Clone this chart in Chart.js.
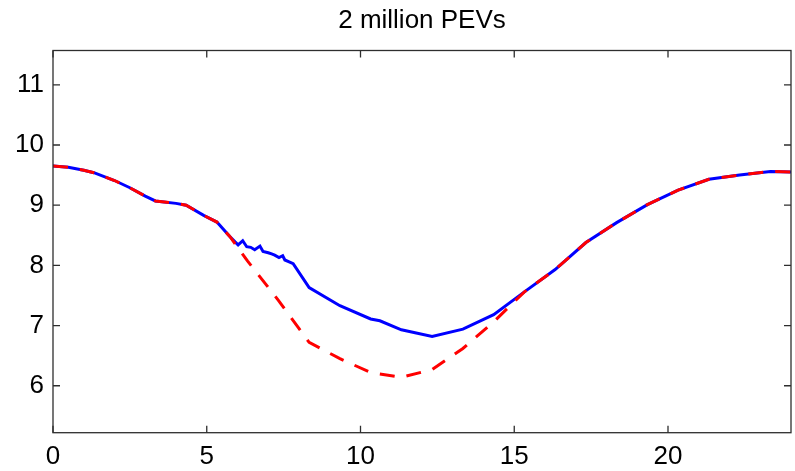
<!DOCTYPE html>
<html>
<head>
<meta charset="utf-8">
<title>2 million PEVs</title>
<script src="https://cdn.jsdelivr.net/npm/chart.js@4.4.1/dist/chart.umd.min.js"></script>
<style>
  html, body { margin: 0; padding: 0; background: #ffffff; }
  #wrap { width: 795px; height: 471px; position: relative; }
</style>
</head>
<body>
<div id="wrap"><canvas id="loadchart"></canvas></div>
<script>
// hour of day
var xTicks = [0, 5, 10, 15, 20];
var yTicks = [6, 7, 8, 9, 10, 11];

// red dashed curve
var baseHours = [0, 0.5, 1.0, 1.33, 2.0, 2.5, 3.0, 3.33, 4.0, 4.33, 4.9, 5.33, 5.75,
    6.0, 6.33, 7.33, 8.33, 9.33, 10.33, 11.33, 12.33, 13.33, 14.33, 15.33,
    16.33, 17.33, 18.33, 19.33, 20.33, 21.33, 22.33, 23.33, 24];
var baseLoad = [9.65, 9.63, 9.58, 9.54, 9.41, 9.29, 9.15, 9.07, 9.03, 9.00, 8.83, 8.72, 8.48,
    8.30, 8.07, 7.42, 6.72, 6.45, 6.22, 6.14, 6.27, 6.62, 7.06, 7.56,
    7.93, 8.38, 8.71, 9.01, 9.25, 9.43, 9.50, 9.56, 9.55];

// blue solid curve
var pevHours = [0, 0.5, 1.0, 1.33, 2.0, 2.5, 3.0, 3.33, 4.0, 4.33, 4.9, 5.33, 5.75,
    5.92, 6.02, 6.17, 6.30, 6.43, 6.56, 6.73, 6.83, 7.0, 7.11, 7.21, 7.35, 7.47, 7.54, 7.68, 7.81,
    8.33, 9.33, 10.33, 10.63, 11.33, 12.33, 13.33, 14.33, 15.33,
    16.33, 17.33, 18.33, 19.33, 20.33, 21.33, 22.33, 23.33, 24];
var pevLoad = [9.65, 9.63, 9.58, 9.54, 9.41, 9.29, 9.15, 9.07, 9.03, 9.00, 8.83, 8.72, 8.48,
    8.39, 8.34, 8.41, 8.31, 8.30, 8.26, 8.32, 8.23, 8.21, 8.19, 8.17, 8.13, 8.16, 8.09, 8.06, 8.03,
    7.63, 7.33, 7.11, 7.08, 6.93, 6.82, 6.94, 7.18, 7.56,
    7.93, 8.38, 8.71, 9.01, 9.25, 9.43, 9.50, 9.56, 9.55];

function toPoints(xs, ys) {
    var pts = [];
    for (var i = 0; i < xs.length; i++) {
        pts.push({ x: xs[i], y: ys[i] });
    }
    return pts;
}

// matlab style box with inward ticks on all four sides
var boxPlugin = {
    id: 'boxTicks',
    afterDraw: function(chart) {
        var ctx = chart.ctx;
        var a = chart.chartArea;
        var xs = chart.scales.x;
        var ys = chart.scales.y;
        var len = 7;
        ctx.save();
        ctx.strokeStyle = '#2e2e2e';
        ctx.lineWidth = 1.3;
        ctx.strokeRect(a.left, a.top, a.right - a.left, a.bottom - a.top);
        ctx.beginPath();
        xTicks.forEach(function(v) {
            var px = xs.getPixelForValue(v);
            ctx.moveTo(px, a.bottom);
            ctx.lineTo(px, a.bottom - len);
            ctx.moveTo(px, a.top);
            ctx.lineTo(px, a.top + len);
        });
        yTicks.forEach(function(v) {
            var py = ys.getPixelForValue(v);
            ctx.moveTo(a.left, py);
            ctx.lineTo(a.left + len, py);
            ctx.moveTo(a.right, py);
            ctx.lineTo(a.right - len, py);
        });
        ctx.stroke();
        ctx.restore();
    }
};

function initLoadChart() {
    var canvas = document.getElementById('loadchart');
    if (!canvas) {
        return;
    }

    var config = {
        type: 'line',
        data: {
            datasets: [{
                label: 'base',
                data: toPoints(baseHours, baseLoad),
                borderColor: '#ff0000',
                borderWidth: 3,
                borderDash: [15, 12],
                pointRadius: 0,
                fill: false,
                tension: 0
            }, {
                label: 'PEV',
                data: toPoints(pevHours, pevLoad),
                borderColor: '#0000ff',
                borderWidth: 3,
                pointRadius: 0,
                fill: false,
                tension: 0
            }]
        },
        options: {
            responsive: true,
            maintainAspectRatio: false,
            animation: false,
            layout: { padding: { top: 0, right: 4, left: 0, bottom: 0 } },
            plugins: {
                legend: { display: false },
                tooltip: { enabled: false },
                title: {
                    display: true,
                    fullSize: false,
                    text: '2 million PEVs',
                    color: '#000000',
                    font: { family: 'Liberation Sans', size: 26, weight: 'normal' },
                    padding: { top: 5, bottom: 14.3 }
                }
            },
            scales: {
                x: {
                    type: 'linear',
                    min: 0,
                    max: 24,
                    grid: { display: false, drawTicks: false },
                    border: { display: false },
                    afterBuildTicks: function(scale) {
                        scale.ticks = xTicks.map(function(v) { return { value: v }; });
                    },
                    afterFit: function(scale) { scale.height = 38.3; },
                    ticks: {
                        color: '#000000',
                        padding: 9,
                        maxRotation: 0,
                        font: { family: 'Liberation Sans', size: 26 }
                    }
                },
                y: {
                    type: 'linear',
                    min: 5.22,
                    max: 11.57,
                    grid: { display: false, drawTicks: false },
                    border: { display: false },
                    afterBuildTicks: function(scale) {
                        scale.ticks = yTicks.map(function(v) { return { value: v }; });
                    },
                    afterFit: function(scale) { scale.width = 53; },
                    ticks: {
                        color: '#000000',
                        padding: 9,
                        font: { family: 'Liberation Sans', size: 26 }
                    }
                }
            }
        },
        plugins: [boxPlugin]
    };

    new Chart(canvas.getContext('2d'), config);
}

document.addEventListener('DOMContentLoaded', initLoadChart);
</script>
</body>
</html>
